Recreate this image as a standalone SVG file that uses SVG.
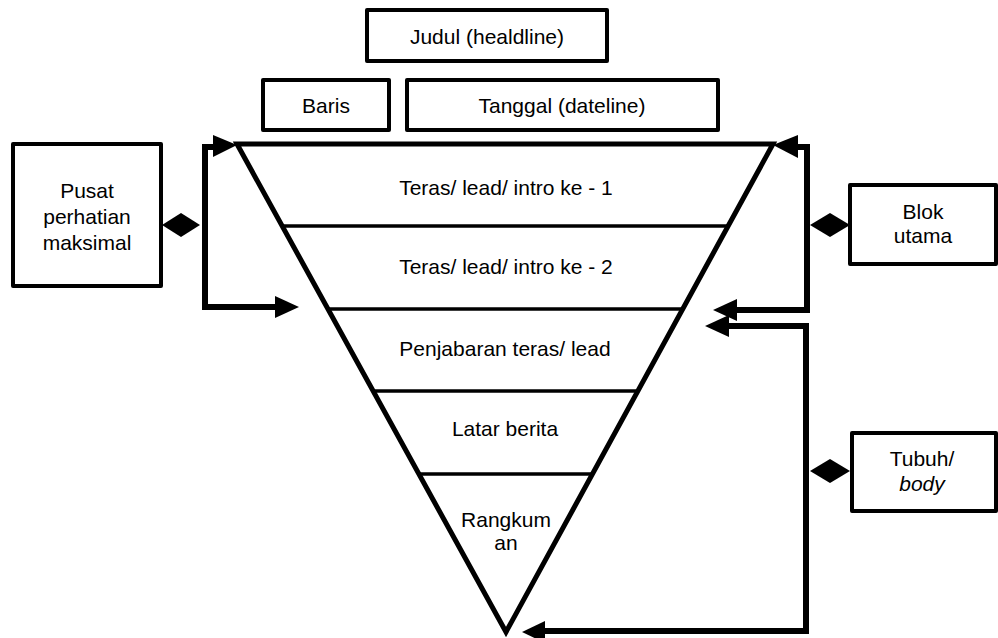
<svg xmlns="http://www.w3.org/2000/svg" width="998" height="638" viewBox="0 0 998 638">
<style>
.box{fill:#fff;stroke:#000;stroke-width:4;stroke-linejoin:round}
.t{font-family:"Liberation Sans",Arial,sans-serif;font-size:21px;fill:#000;text-anchor:middle}
.conn{fill:none;stroke:#000;stroke-width:6;stroke-linejoin:miter}
.head{fill:#000;stroke:none}
.tri{fill:#fff;stroke:#000;stroke-width:5;stroke-linejoin:miter}
.sep{stroke:#000;stroke-width:3.5}
</style>
<rect width="998" height="638" fill="#fff"/>

<g id="judul">
<rect class="box" x="367" y="10" width="240" height="51"/>
<text class="t" x="487" y="44">Judul (healdline)</text>
</g>
<g id="baris">
<rect class="box" x="263" y="80" width="126" height="50"/>
<text class="t" x="326" y="113">Baris</text>
</g>
<g id="tanggal">
<rect class="box" x="407" y="80" width="311" height="50"/>
<text class="t" x="562" y="113">Tanggal (dateline)</text>
</g>

<g id="piramida">
<polygon class="tri" points="237,144 773,144 506,632"/>
<line class="sep" x1="282" y1="226" x2="728" y2="226"/>
<line class="sep" x1="328" y1="309" x2="683" y2="309"/>
<line class="sep" x1="373" y1="391" x2="638" y2="391"/>
<line class="sep" x1="419" y1="474" x2="592" y2="474"/>
</g>
<g id="teras1"><text class="t" x="506" y="195">Teras/ lead/ intro ke - 1</text></g>
<g id="teras2"><text class="t" x="506" y="274">Teras/ lead/ intro ke - 2</text></g>
<g id="penjabaran"><text class="t" x="505" y="356">Penjabaran teras/ lead</text></g>
<g id="latar"><text class="t" x="505" y="436">Latar berita</text></g>
<g id="rangkuman"><text class="t" x="506" y="527">Rangkum<tspan x="506" y="550">an</tspan></text></g>

<g id="pusat">
<rect class="box" x="13" y="144" width="148" height="142"/>
<text class="t" x="87" y="198">Pusat<tspan x="87" y="224">perhatian</tspan><tspan x="87" y="250">maksimal</tspan></text>
</g>
<g id="blok">
<rect class="box" x="850" y="185" width="146" height="79"/>
<text class="t" x="923" y="219">Blok<tspan x="923" y="243">utama</tspan></text>
</g>
<g id="tubuh">
<rect class="box" x="852" y="433" width="144" height="78"/>
<text class="t" x="922" y="466">Tubuh/<tspan x="922" y="491" font-style="italic">body</tspan></text>
</g>

<g id="connectors">
<!-- left bracket -->
<polyline class="conn" points="216,147 205,147 205,307 278,307"/>
<polygon class="head" points="237,145 213,135 213,157"/>
<polygon class="head" points="299,307 275,296 275,318"/>
<polygon class="head" points="162,225 181,213 200,225 181,237"/>
<!-- right upper bracket -->
<polyline class="conn" points="795,147 807,147 807,310 733,310"/>
<polygon class="head" points="773,145 798,135 798,158"/>
<polygon class="head" points="713,310 737,299 737,321"/>
<polygon class="head" points="810,225 830,213 850,225 830,237"/>
<!-- right lower bracket -->
<polyline class="conn" points="724,326 806,326 806,631 541,631"/>
<polygon class="head" points="705,326 729,315 729,337"/>
<polygon class="head" points="522,632 545,621 545,643"/>
<polygon class="head" points="810,471 830,459 850,471 830,483"/>
</g>
</svg>
